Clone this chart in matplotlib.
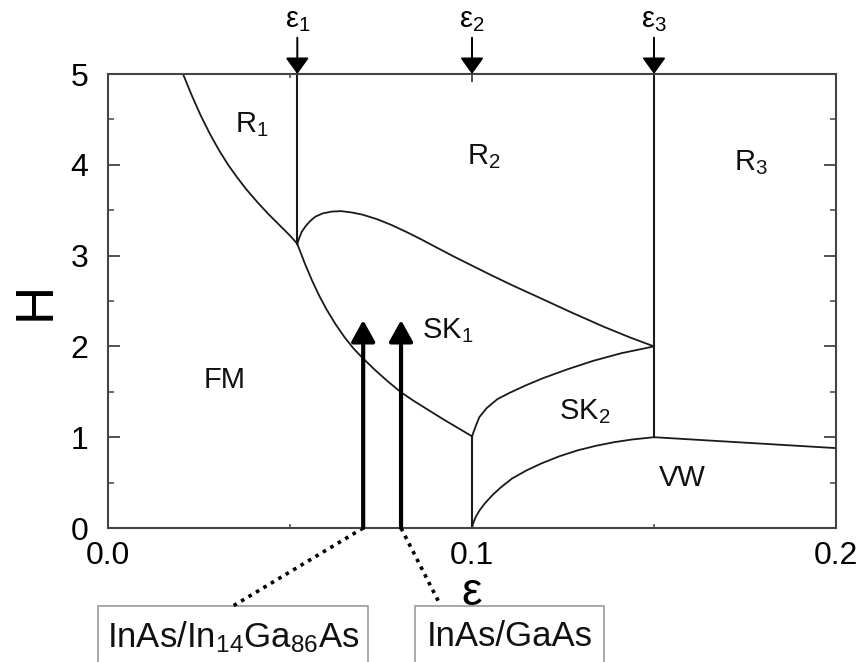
import numpy as np
import matplotlib.pyplot as plt
from matplotlib.patches import Rectangle

plt.rcParams['font.family'] = ['Liberation Sans', 'DejaVu Sans']
plt.rcParams['mathtext.fontset'] = 'custom'
plt.rcParams['mathtext.rm'] = 'Liberation Sans'
plt.rcParams['mathtext.it'] = 'Liberation Sans'

# phase boundaries (strain eps, coverage H)
fm_r1_eps = [0.0206, 0.0230, 0.0255, 0.0280, 0.0305, 0.0330, 0.0355, 0.0380, 0.0410,
             0.0440, 0.0470, 0.0500, 0.0520]
fm_r1_H = [5.0, 4.765, 4.54, 4.34, 4.16, 4.00, 3.86, 3.73, 3.59, 3.46, 3.34, 3.22, 3.13]

fm_sk1_eps = [0.052, 0.054, 0.056, 0.058, 0.060, 0.0625, 0.065, 0.0675, 0.070, 0.0735,
              0.077, 0.0805, 0.084, 0.088, 0.092, 0.096, 0.100]
fm_sk1_H = [3.13, 2.92, 2.73, 2.56, 2.41, 2.245, 2.10, 1.975, 1.87, 1.735,
            1.61, 1.495, 1.40, 1.30, 1.20, 1.105, 1.01]

r2_sk1_eps = [0.052, 0.0525, 0.0532, 0.0542, 0.0555, 0.057, 0.059, 0.0615, 0.064, 0.067,
              0.070, 0.074, 0.078, 0.082, 0.086, 0.090, 0.095, 0.0995, 0.105, 0.1115,
              0.1178, 0.127, 0.136, 0.143, 0.150]
r2_sk1_H = [3.13, 3.19, 3.26, 3.32, 3.38, 3.43, 3.465, 3.485, 3.49, 3.475,
            3.45, 3.40, 3.335, 3.26, 3.18, 3.095, 2.99, 2.90, 2.79, 2.665,
            2.55, 2.38, 2.22, 2.105, 2.00]

sk1_sk2_eps = [0.100, 0.101, 0.102, 0.104, 0.107, 0.1104, 0.115, 0.1195, 0.126, 0.1332, 0.141, 0.150]
sk1_sk2_H = [1.01, 1.12, 1.22, 1.32, 1.42, 1.49, 1.575, 1.65, 1.745, 1.84, 1.925, 2.00]

sk2_vw_eps = [0.100, 0.1003, 0.101, 0.102, 0.1035, 0.1058, 0.108, 0.111, 0.115, 0.119,
              0.124, 0.129, 0.134, 0.139, 0.144, 0.150]
sk2_vw_H = [0.0, 0.05, 0.12, 0.19, 0.27, 0.37, 0.45, 0.545, 0.635, 0.71,
            0.79, 0.855, 0.905, 0.945, 0.975, 1.00]

r3_vw_eps = [0.150, 0.175, 0.200]
r3_vw_H = [1.00, 0.94, 0.88]

# vertical boundaries: (eps, H bottom, H top)
eps1, eps2, eps3 = 0.052, 0.100, 0.150
vlines = [(eps1, 3.13, 5.0), (eps2, 0.0, 1.01), (eps3, 1.0, 5.0)]
crit_labels = [r'ε$_1$', r'ε$_2$', r'ε$_3$']

regions = ['R$_1$', 'R$_2$', 'R$_3$', 'SK$_1$', 'SK$_2$', 'VW', 'FM']
region_eps = [0.0396, 0.1033, 0.1766, 0.0934, 0.1310, 0.1577, 0.0319]
region_H = [4.44, 4.09, 4.02, 2.17, 1.28, 0.55, 1.63]

# material systems
systems = ['InAs/In$_{14}$Ga$_{86}$As', 'InAs/GaAs']
system_eps = [0.0701, 0.0805]
system_H = [2.29, 2.29]

fig = plt.figure(figsize=(8.6, 6.62), dpi=100)
ax = fig.add_axes([0.1256, 0.2024, 0.8465, 0.6858])

lc = '#1a1a1a'
for e, h in [(fm_r1_eps, fm_r1_H), (fm_sk1_eps, fm_sk1_H), (r2_sk1_eps, r2_sk1_H),
             (sk1_sk2_eps, sk1_sk2_H), (sk2_vw_eps, sk2_vw_H), (r3_vw_eps, r3_vw_H)]:
    ax.plot(e, h, color=lc, lw=1.3, solid_joinstyle='round')
for x, y0, y1 in vlines:
    ax.plot([x, x], [y0, y1], color=lc, lw=1.5)

for name, x, y in zip(regions, region_eps, region_H):
    ax.text(x, y, name, fontsize=21, ha='center', va='center', color='#111')

# critical strain arrows on top
for x, lab in zip([eps1, eps2, eps3], crit_labels):
    ax.annotate('', xy=(x, 5.0), xytext=(x, 5.4), annotation_clip=False,
                arrowprops=dict(arrowstyle='-|>,head_length=0.5,head_width=0.36',
                                mutation_scale=20, color='black', lw=1.4,
                                shrinkA=0, shrinkB=0))
    ax.text(x, 5.6, lab, fontsize=21, ha='center', va='center')

# systems: thick arrows, dotted leaders and boxed names
box_left = [-0.00275, 0.0843]
box_right = [0.0714, 0.1363]
leader_end = [(0.0343, -0.86), (0.0912, -0.84)]
for i, (x, h) in enumerate(zip(system_eps, system_H)):
    ax.annotate('', xy=(x, h), xytext=(x, 0.0), annotation_clip=False,
                arrowprops=dict(arrowstyle='-|>,head_length=0.65,head_width=0.36',
                                mutation_scale=20, color='black', lw=3,
                                shrinkA=0, shrinkB=0))
    ax.plot([x, leader_end[i][0]], [0.0, leader_end[i][1]], color='black',
            ls=(0, (1, 1.4)), lw=2.6, clip_on=False)
    ax.add_patch(Rectangle((box_left[i], -2.0), box_right[i] - box_left[i], 2.0 - 0.86,
                           fill=False, ec='#9a9a9a', lw=1.2, clip_on=False))
    ax.text((box_left[i] + box_right[i]) / 2, -1.2, systems[i], fontsize=25,
            ha='center', va='center', color='#111')

ax.set_xlim(0, 0.2)
ax.set_ylim(0, 5)
ax.set_xticks([0.0, 0.1, 0.2])
ax.set_xticklabels(['0.0', '0.1', '0.2'])
ax.set_xticks([0.05, 0.15], minor=True)
ax.set_yticks(np.arange(0, 6))
ax.set_yticks(np.arange(0.5, 5, 1.0), minor=True)

sc = '#444444'
for s in ax.spines.values():
    s.set_color(sc)
    s.set_linewidth(1.5)
ax.tick_params(axis='both', which='both', direction='in', top=True, right=True,
               color=sc, labelsize=23)
ax.tick_params(axis='y', which='major', length=8.5, width=1.3, pad=14)
ax.tick_params(axis='y', which='minor', length=4, width=1.1)
ax.tick_params(axis='x', which='major', length=6, width=1.3, pad=9)
ax.tick_params(axis='x', which='minor', length=3, width=1.1)

ax.set_xlabel('ε', fontsize=33, labelpad=0)
ax.set_ylabel('H', fontsize=38, labelpad=7)

fig.savefig('out.png', dpi=100)
